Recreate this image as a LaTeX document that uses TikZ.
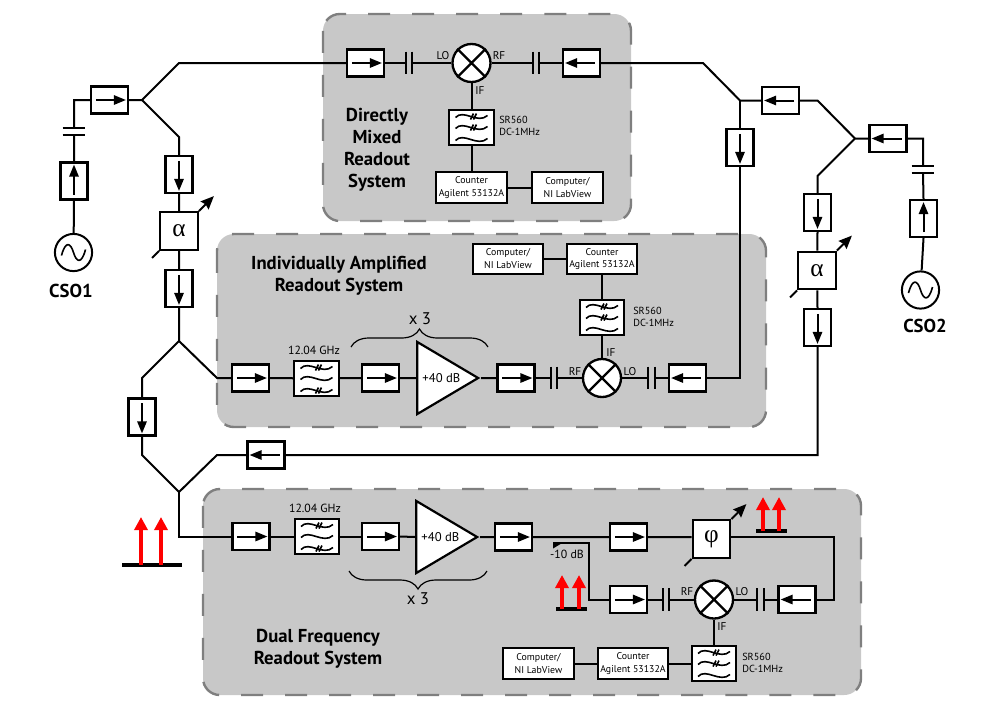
\documentclass[tikz,border=0pt]{standalone}
\usepackage{fontspec}
\setmainfont{PT Sans}
\newfontfamily\greekserif{Liberation Serif}
\usetikzlibrary{arrows.meta,calc,shapes.geometric,decorations.pathreplacing}
\definecolor{panelgray}{HTML}{C8C8C8}
\definecolor{dashgray}{HTML}{7F7F7F}
\tikzset{
    wire/.style={line width=0.05cm},
    panel/.style={fill=panelgray,draw=dashgray,line width=0.06cm,rounded corners=0.42cm,dash pattern=on 0.55cm off 0.55cm},
    isobox/.style={draw,fill=white,line width=0.055cm,minimum width=0.925cm,minimum height=0.675cm,inner sep=0pt},
    isoarrow/.style={line width=0.05cm,-{Triangle[length=0.3cm,width=0.23cm]}},
    capnode/.style={minimum width=0.15cm,minimum height=0.55cm,inner sep=0pt},
    mixer/.style={circle,draw,fill=white,line width=0.058cm,minimum size=0.95cm,inner sep=0pt},
    source/.style={circle,draw,fill=white,line width=0.05cm,minimum size=0.93cm,inner sep=0pt},
    filterbox/.style={draw,fill=white,line width=0.055cm,minimum width=1.11cm,minimum height=0.89cm,inner sep=0pt},
    wave/.style={line width=0.04cm},
    attbox/.style={draw,fill=white,line width=0.055cm,minimum size=0.94cm,inner sep=0pt,font=\fontsize{18}{18}\selectfont\greekserif},
    attarrow/.style={line width=0.05cm,-{Stealth[length=0.33cm,width=0.28cm,inset=0.04cm]}},
    infobox/.style={draw,fill=white,line width=0.055cm,minimum width=1.76cm,minimum height=0.76cm,inner sep=0pt,align=center,font=\fontsize{7}{9.2}\selectfont},
    amp/.style={isosceles triangle,isosceles triangle stretches,draw,fill=white,line width=0.055cm,minimum width=1.8cm,minimum height=1.52cm,inner sep=0pt,font=\fontsize{9}{9}\selectfont},
    smalltext/.style={inner sep=0pt,font=\fontsize{8}{9}\selectfont},
    gaintext/.style={inner sep=0pt,font=\fontsize{8.4}{9}\selectfont},
    cornertext/.style={inner sep=0pt,anchor=west,align=left,font=\fontsize{7.3}{9}\selectfont},
    titletext/.style={inner sep=0pt,align=center,font=\fontsize{13.3}{15.6}\selectfont\bfseries},
    timestext/.style={inner sep=0pt,font=\fontsize{12}{12}\selectfont},
    brace3/.style={line width=0.03cm,decorate,decoration={brace,amplitude=0.45cm}},
    redbar/.style={fill=black,minimum height=0.1cm,inner sep=0pt},
    redarrow/.style={red,line width=0.1cm,-{Triangle[length=0.33cm,width=0.33cm]}}
}
\begin{document}
\begin{tikzpicture}[x=0.025cm,y=-0.025cm]
    \useasboundingbox (0,0) rectangle (997,712);
    \draw[panel] (323,14) rectangle (631,221);
    \draw[panel] (217,234) rectangle (766,427);
    \draw[panel] (203,489) rectangle (861,695);

    \foreach \nm/\cx/\cy/\ang in {isoInA/109.5/100/0,isoSrcA/74/181/90,isoAttA/179/174.5/-90,isoLowA/179/288.5/-90,
        isoLeft/142/417/-90,isoBack/266/455/180,
        isoDirA/365.5/63/0,isoDirB/581.5/63/180,isoRight/740/147.5/-90,isoInB/780.5/100.5/180,
        isoSrcC/888/138.5/180,isoSrcB/923.5/218.5/90,isoAttB/817.5/212.5/-90,isoLowB/817.5/327.5/-90,
        isoIndA/250.5/378/0,isoIndB/380.5/378/0,isoIndC/516/378/0,isoIndD/687.5/378/180,
        isoDualA/251/536.5/0,isoDualB/380.5/536.5/0,isoDualC/513.5/537/0,isoDualD/628.5/537/0,
        isoDualE/628.5/599.5/0,isoDualF/797/599.5/180}{
        \node[isobox,rotate=\ang] (\nm) at (\cx,\cy) {};
        \draw[isoarrow] ($(\nm.west)!0.15!(\nm.east)$) -- ($(\nm.west)!0.92!(\nm.east)$);
    }
    \foreach \nm/\cx/\cy/\ang in {capSrcA/74/131.5/90,capSrcB/923/169.5/90,capDirA/409/63/0,capDirB/536/63/0,
        capIndA/554/378/0,capIndB/651.5/378/0,capDualA/666/599.5/0,capDualB/760.5/599.5/0}{
        \node[capnode,rotate=\ang] (\nm) at (\cx,\cy) {};
        \draw[wire] (\nm.north west) -- (\nm.south west) (\nm.north east) -- (\nm.south east);
    }
    \foreach \nm/\cx/\cy in {mixDir/471.5/63,mixInd/602/378,mixDual/714/599.5}{
        \node[mixer] (\nm) at (\cx,\cy) {};
        \draw[line width=0.058cm] (\nm.45) -- (\nm.225) (\nm.135) -- (\nm.-45);
    }
    \foreach \nm/\cx/\cy/\crossed in {filtDir/471.5/127.5/{-11,0},filtInd/602/317.5/{-11,0},filtDual/714/663.5/{-11,0},
        filtGhzA/316.5/378.5/{-11,12},filtGhzB/317/536.5/{-11,12}}{
        \node[filterbox] (\nm) at (\cx,\cy) {};
        \begin{scope}[shift={(\nm)}]
            \foreach \dy in {-11,0,12}{
                \draw[wave] (-16,\dy+1) .. controls (-8,\dy-8) and (6,\dy+8) .. (16,\dy-1);
            }
            \foreach \dy in \crossed{
                \draw[wave] (-1,\dy+3) -- (2,\dy-3) (2,\dy+3) -- (5,\dy-3);
            }
        \end{scope}
    }
    \foreach \nm/\cx/\cy in {srcA/73.5/252.5,srcB/920.5/290}{
        \node[source] (\nm) at (\cx,\cy) {};
        \draw[wave,shift={(\nm)}] (-12,3) .. controls (-8,-12) and (-3,-10) .. (0,0) .. controls (3,10) and (8,12) .. (12,-3);
    }
    \foreach \nm/\cx/\cy/\txt in {attA/179/231/α,attB/817/270.5/α,phase/711.5/539/φ}{
        \node[attbox] (\nm) at (\cx,\cy) {\txt};
        \draw[attarrow] (\nm.north east) -- ++(15,-15);
        \draw[wire] (\nm.south west) -- ++(-7,7);
    }
    \foreach \nm/\cx/\cy/\txt in {cntDir/471.5/187.5/{Counter\\Agilent 53132A},pcDir/567.5/187.5/{Computer/\\NI LabView},
        cntInd/602/259/{Counter\\Agilent 53132A},pcInd/508/259/{Computer/\\NI LabView},
        cntDual/633/663.5/{Counter\\Agilent 53132A},pcDual/538.5/663.5/{Computer/\\NI LabView}}{
        \node[infobox] (\nm) at (\cx,\cy) {\txt};
    }
    \node[amp,anchor=apex] (ampInd) at (481,378) {+40 dB};
    \node[amp,anchor=apex] (ampDual) at (480,537) {+40 dB};

    \coordinate (splitL) at (142,100);
    \coordinate (bendLa) at (179,63);
    \coordinate (bendLb) at (179,137);
    \coordinate (bendSrcA) at (74,100);
    \coordinate (splitTop) at (179,341);
    \coordinate (bendTopL) at (142,378);
    \coordinate (bendTopR) at (217,378);
    \coordinate (bendBotL) at (142,455);
    \coordinate (splitBot) at (179,492);
    \coordinate (bendBotR) at (217,455);
    \coordinate (bendDual) at (179,536.5);
    \coordinate (bendRa) at (703,63);
    \coordinate (splitRa) at (740,100.5);
    \coordinate (bendRb) at (817.5,100.5);
    \coordinate (splitRb) at (855,138.5);
    \coordinate (bendRc) at (817.5,176);
    \coordinate (bendSrcB) at (923,138.5);
    \coordinate (bendInd) at (740,378);
    \coordinate (bendBack) at (817.5,455);
    \coordinate (bendFb) at (834,537);
    \coordinate (bendFc) at (834,599.5);
    \coordinate (bendCplA) at (589,599.5);
    \coordinate (bendCplB) at (589,542.5);
    \coordinate (tapCpl) at (553,542.5);

    \draw[wire] (srcA) -- (isoSrcA.west) (isoSrcA.east) -- (capSrcA.west) (capSrcA.east) -- (bendSrcA) -- (isoInA.west);
    \draw[wire] (isoInA.east) -- (splitL) -- (bendLa) -- (isoDirA.west);
    \draw[wire] (splitL) -- (bendLb) -- (isoAttA.west) (isoAttA.east) -- (attA) (attA) -- (isoLowA.west);
    \draw[wire] (isoLowA.east) -- (splitTop) -- (bendTopR) -- (isoIndA.west);
    \draw[wire] (splitTop) -- (bendTopL) -- (isoLeft.west) (isoLeft.east) -- (bendBotL) -- (splitBot) -- (bendBotR) -- (isoBack.east);
    \draw[wire] (isoBack.west) -- (bendBack) -- (isoLowB.east) (isoLowB.west) -- (attB) (attB) -- (isoAttB.east);
    \draw[wire] (isoAttB.west) -- (bendRc) -- (splitRb) -- (isoSrcC.east) (isoSrcC.west) -- (bendSrcB) -- (capSrcB.east);
    \draw[wire] (capSrcB.west) -- (isoSrcB.east) (isoSrcB.west) -- (srcB);
    \draw[wire] (splitRb) -- (bendRb) -- (isoInB.west) (isoInB.east) -- (splitRa) -- (bendRa) -- (isoDirB.west);
    \draw[wire] (splitRa) -- (isoRight.west) (isoRight.east) -- (bendInd) -- (isoIndD.west);
    \draw[wire] (isoDirA.east) -- (capDirA.west) (capDirA.east) -- (mixDir) (mixDir) -- (capDirB.west) (capDirB.east) -- (isoDirB.east);
    \draw[wire] (mixDir) -- (filtDir) (filtDir) -- (cntDir) (cntDir) -- (pcDir);
    \draw[wire] (isoIndA.east) -- (filtGhzA) (filtGhzA) -- (isoIndB.west) (isoIndB.east) -- (ampInd.lower side) (ampInd.apex) -- (isoIndC.west);
    \draw[wire] (isoIndC.east) -- (capIndA.west) (capIndA.east) -- (mixInd) (mixInd) -- (capIndB.west) (capIndB.east) -- (isoIndD.east);
    \draw[wire] (mixInd) -- (filtInd) (filtInd) -- (cntInd) (cntInd) -- (pcInd);
    \draw[wire] (splitBot) -- (bendDual) -- (isoDualA.west) (isoDualA.east) -- (filtGhzB) (filtGhzB) -- (isoDualB.west);
    \draw[wire] (isoDualB.east) -- (ampDual.lower side) (ampDual.apex) -- (isoDualC.west) (isoDualC.east) -- (isoDualD.west) (isoDualD.east) -- (phase.west |- isoDualD);
    \draw[wire] (phase.east |- isoDualD) -- (bendFb) -- (bendFc) -- (isoDualF.west);
    \draw[wire] (isoDualF.east) -- (capDualB.east) (capDualB.west) -- (mixDual) (mixDual) -- (capDualA.east) (capDualA.west) -- (isoDualE.east);
    \draw[wire] (isoDualE.west) -- (bendCplA) -- (bendCplB) -- (tapCpl);
    \fill (tapCpl) -- ++(10,0) -- ++(-10,6) -- cycle;
    \draw[wire] (mixDual) -- (filtDual) (filtDual) -- (cntDual) (cntDual) -- (pcDual);

    \foreach \nm/\cx/\cy/\barw in {barA/152/565/1.5,barB/571.5/609/0.78,barC/771.5/531/0.78}{
        \node[redbar,minimum width=\barw cm] (\nm) at (\cx,\cy) {};
    }
    \foreach \nm/\lx/\rx/\hh in {barA/-11/9/48,barB/-9.5/7.5/34,barC/-8.5/7.5/34}{
        \draw[redarrow] ($(\nm)+(\lx,0)$) -- ++(0,-\hh);
        \draw[redarrow] ($(\nm)+(\rx,0)$) -- ++(0,-\hh);
    }

    \draw[brace3] (351,347) -- (488,347);
    \draw[brace3] (487,571) -- (349,571);
    \node[timestext] (timesA) at (420,319) {x 3};
    \node[timestext] (timesB) at (418,599) {x 3};

    \foreach \nm/\cx/\cy/\txt in {loDir/443/56/LO,rfDir/499/56/RF,ifDir/480/91/IF,rfInd/575/372/RF,loInd/630/372/LO,ifInd/611/353/IF,
        rfDual/687/592/RF,loDual/742/592/LO,ifDual/722/627/IF}{
        \node[smalltext] (\nm) at (\cx,\cy) {\txt};
    }
    \foreach \nm/\cx/\cy in {ghzA/314/350,ghzB/315/508}{
        \node[gaintext] (\nm) at (\cx,\cy) {12.04 GHz};
    }
    \node[gaintext] (tapText) at (567,554) {-10 dB};
    \foreach \nm/\cx/\cy in {srDir/499/126,srInd/633/317,srDual/742/663}{
        \node[cornertext] (\nm) at (\cx,\cy) {SR560\\DC-1MHz};
    }
    \node[titletext] (titleDir) at (377,150) {Directly\\Mixed\\Readout\\System};
    \node[titletext] (titleInd) at (339,276) {Individually Amplified\\Readout System};
    \node[titletext] (titleDual) at (318,649) {Dual Frequency\\Readout System};
    \node[titletext] (nameA) at (71,291) {CSO1};
    \node[titletext] (nameB) at (925,326) {CSO2};
\end{tikzpicture}
\end{document}
